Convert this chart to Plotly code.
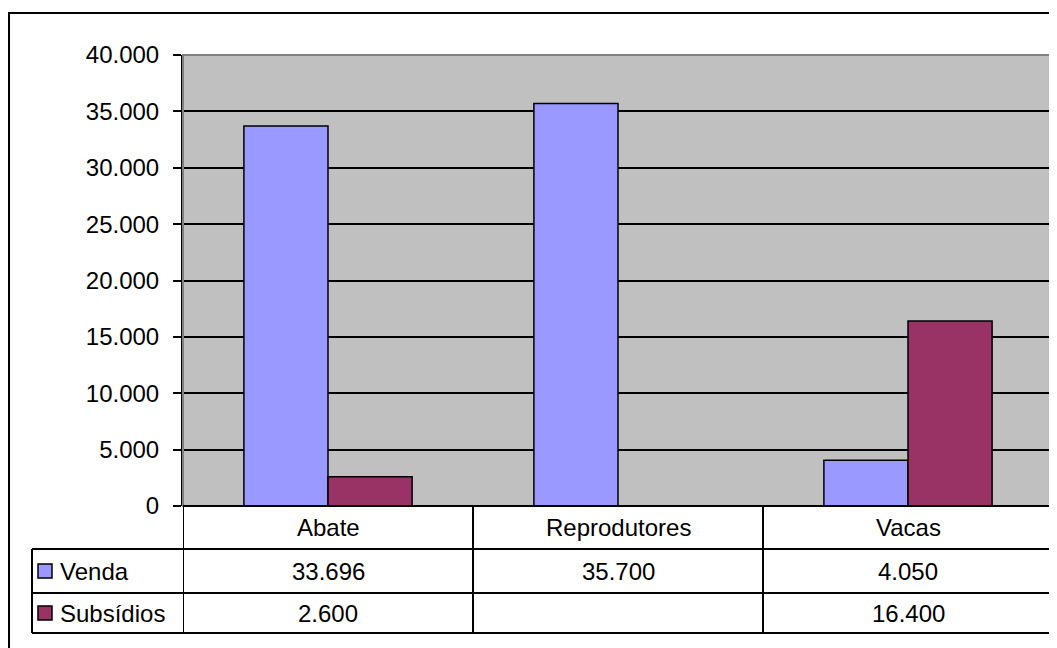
import plotly.graph_objects as go

categories = ["Abate", "Reprodutores", "Vacas"]
venda = [33696, 35700, 4050]
subsidios = [2600, None, 16400]
series_names = ["Venda", "Subsídios"]
series_colors = ["#9999FF", "#993366"]
y_ticks = [0, 5000, 10000, 15000, 20000, 25000, 30000, 35000, 40000]

OFF = 8  # page body margin in the viewer
W, H = 1057 - OFF, 648 - OFF
FONT = "Liberation Sans, Arial, sans-serif"
FS = 24


def px_x(x):
    return (x - OFF) / W


def px_y(y):
    return 1 - (y - OFF) / H


def fmt(v):
    return "" if v is None else f"{v:,}".replace(",", ".")


fig = go.Figure()
for name, vals, col in zip(series_names, [venda, subsidios], series_colors):
    fig.add_trace(go.Bar(
        x=categories, y=vals, name=name,
        marker=dict(color=col, line=dict(color="black", width=1.5)),
        showlegend=False,
    ))

plot_left, plot_right, plot_top, plot_bottom = 183, 1053, 55, 506
rows = [(506, 549), (549, 593), (593, 633)]
legend_left = 32

shapes = []
# outer chart border
shapes.append(dict(type="rect", xref="paper", yref="paper",
                   x0=px_x(9), x1=px_x(1090), y0=px_y(13), y1=px_y(720),
                   line=dict(color="black", width=2), layer="below"))
# plot area border (grey)
shapes.append(dict(type="rect", xref="x domain", yref="y domain",
                   x0=0, x1=1, y0=0, y1=1,
                   line=dict(color="#808080", width=2), layer="above"))
# table horizontal lines
shapes.append(dict(type="line", xref="x", yref="paper",
                   x0=-0.5, x1=2.5, y0=px_y(rows[0][0]), y1=px_y(rows[0][0]),
                   line=dict(color="black", width=2)))
for yb in [rows[1][0], rows[2][0], rows[2][1]]:
    shapes.append(dict(type="line", xref="paper", yref="paper",
                       x0=px_x(legend_left), x1=px_x(plot_right),
                       y0=px_y(yb), y1=px_y(yb),
                       line=dict(color="black", width=2)))
# table vertical lines
for i in range(len(categories) + 1):
    shapes.append(dict(type="line", xref="x", yref="paper",
                       x0=i - 0.5, x1=i - 0.5,
                       y0=px_y(rows[0][0]), y1=px_y(rows[2][1]),
                       line=dict(color="black", width=2)))
shapes.append(dict(type="line", xref="paper", yref="paper",
                   x0=px_x(legend_left), x1=px_x(legend_left),
                   y0=px_y(rows[1][0]), y1=px_y(rows[2][1]),
                   line=dict(color="black", width=2)))
# legend keys
for (r0, r1), col in zip(rows[1:], series_colors):
    cy = (r0 + r1) / 2
    shapes.append(dict(type="rect", xref="paper", yref="paper",
                       x0=px_x(38), x1=px_x(52), y0=px_y(cy - 7), y1=px_y(cy + 7),
                       fillcolor=col, line=dict(color="black", width=1.5)))

annotations = []
hc = (rows[0][0] + rows[0][1]) / 2
for c in categories:
    annotations.append(dict(x=c, xref="x", y=px_y(hc), yref="paper", text=c,
                            xanchor="center", yanchor="middle",
                            showarrow=False, font=dict(size=FS, color="black", family=FONT)))
for (r0, r1), name, vals in zip(rows[1:], series_names, [venda, subsidios]):
    cy = (r0 + r1) / 2
    annotations.append(dict(x=px_x(58), xref="paper", y=px_y(cy), yref="paper",
                            text=name, xanchor="left", yanchor="middle", showarrow=False,
                            font=dict(size=FS, color="black", family=FONT)))
    for c, v in zip(categories, vals):
        annotations.append(dict(x=c, xref="x", y=px_y(cy), yref="paper", text=fmt(v),
                                xanchor="center", yanchor="middle",
                                showarrow=False, font=dict(size=FS, color="black", family=FONT)))

fig.update_layout(
    width=W, height=H,
    autosize=False,
    margin=dict(l=0, r=0, t=0, b=0, pad=0, autoexpand=False),
    paper_bgcolor="white",
    plot_bgcolor="#C0C0C0",
    separators=",.",
    barmode="group",
    bargap=0.42,
    bargroupgap=0,
    showlegend=False,
    font=dict(family=FONT, size=FS, color="black"),
    xaxis=dict(domain=[px_x(plot_left), px_x(plot_right)], range=[-0.5, 2.5],
               showticklabels=False, showgrid=False, zeroline=False, ticks="",
               automargin=False),
    yaxis=dict(domain=[px_y(plot_bottom), px_y(plot_top)], range=[0, 40000],
               tickvals=y_ticks, tickformat=",d", ticks="outside", ticklen=8,
               tickwidth=2, tickcolor="black", showline=True, linecolor="black",
               linewidth=2, showgrid=True, gridcolor="black", gridwidth=1.5,
               zeroline=False, ticklabelstandoff=9, automargin=False,
               tickfont=dict(size=FS, color="black", family=FONT)),
    shapes=shapes,
    annotations=annotations,
)

fig.write_html("out.html")
